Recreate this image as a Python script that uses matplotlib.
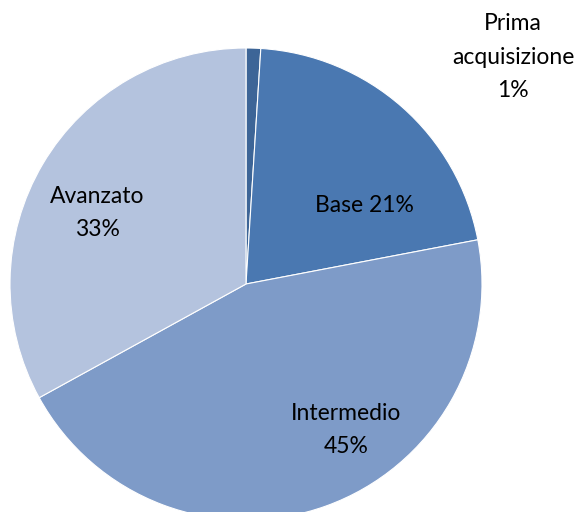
import matplotlib
matplotlib.use("Agg")
import matplotlib.pyplot as plt

categories = ["Prima\nacquisizione", "Base", "Intermedio", "Avanzato"]
values = [1, 21, 45, 33]
colors = ["#3D6597", "#4A78B1", "#7E9BC8", "#B4C3DE"]

W, H = 584, 512
fig = plt.figure(figsize=(W / 100, H / 100), dpi=100)
cx, cy, r = 246, 284, 236
ax = fig.add_axes([(cx - r) / W, (H - cy - r) / H, 2 * r / W, 2 * r / H])
ax.pie(values, colors=colors, startangle=90, counterclock=False, radius=1,
       wedgeprops=dict(edgecolor="white", linewidth=0.8))
ax.set_xlim(-1, 1)
ax.set_ylim(-1, 1)
ax.set_aspect("equal")
ax.axis("off")

font = ["Lato", "DejaVu Sans"]
fs = 16.5
labels = [f"{c}\n{v}%" if i != 1 else f"{c} {v}%" for i, (c, v) in enumerate(zip(categories, values))]
positions = [(513, 57), (364, 205), (346, 430), (97, 213)]
for lab, (px, py) in zip(labels, positions):
    fig.text(px / W, 1 - py / H, lab, ha="center", va="center", fontsize=fs,
             family=font, linespacing=1.72, color="black")

fig.savefig("out.png", dpi=100)
